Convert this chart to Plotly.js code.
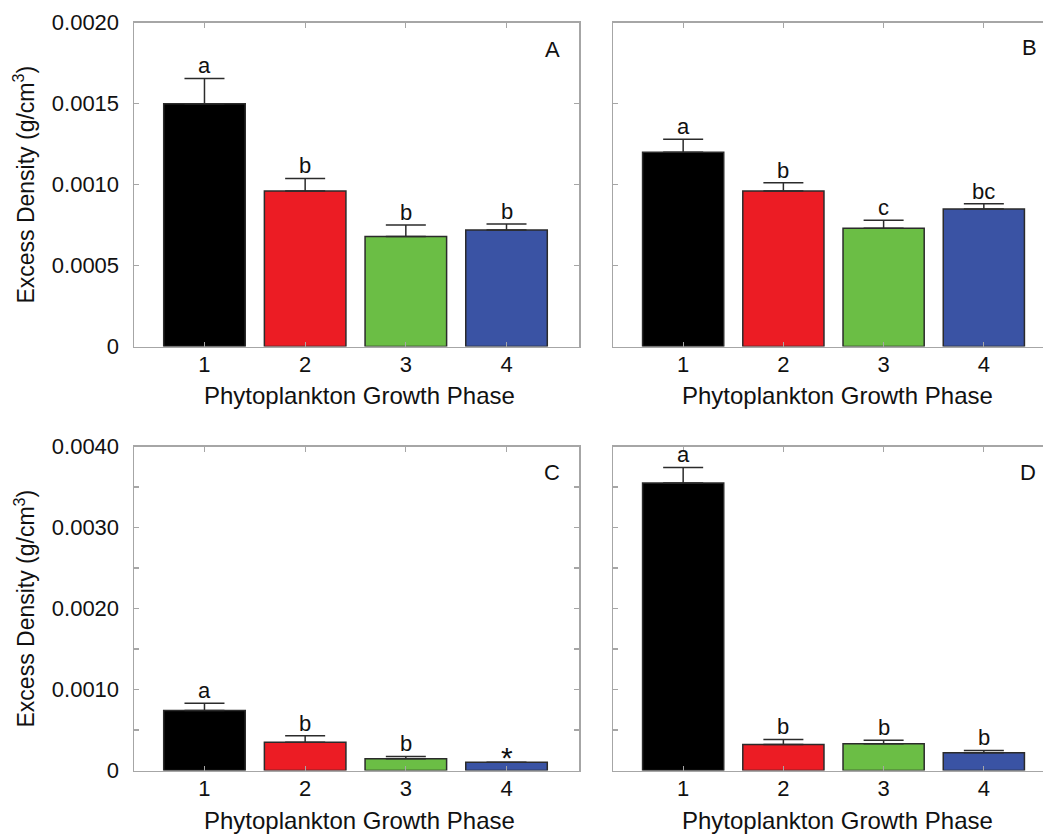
<!DOCTYPE html>
<html>
<head>
<meta charset="utf-8">
<script src="https://cdn.plot.ly/plotly-3.0.1.min.js"></script>
<style>
html,body{margin:0;padding:0;overflow:hidden;background:#fff;}
#chart{width:1070px;height:834px;}
</style>
</head>
<body>
<div id="chart"></div>
<script>
// ---- data ----
const categories = [1, 2, 3, 4];
const barColors = ['#000000', '#EC1C24', '#6BBE45', '#3A53A4'];

const valuesA = [0.00150, 0.00096, 0.00068, 0.00072];
const errorsA = [0.000156, 0.000078, 0.000070, 0.000036];
const lettersA = ['a', 'b', 'b', 'b'];

const valuesB = [0.00120, 0.00096, 0.00073, 0.00085];
const errorsB = [0.000080, 0.000052, 0.000050, 0.000032];
const lettersB = ['a', 'b', 'c', 'bc'];

const valuesC = [0.00074, 0.00035, 0.000144, 0.000103];
const errorsC = [0.000090, 0.000078, 0.000029, 0.0];
const lettersC = ['a', 'b', 'b', '*'];

const valuesD = [0.00355, 0.00032, 0.00033, 0.00022];
const errorsD = [0.000192, 0.000064, 0.000042, 0.000028];
const lettersD = ['a', 'b', 'b', 'b'];

const panelLabels = ['A', 'B', 'C', 'D'];

const tickValsTop = [0, 0.0005, 0.0010, 0.0015, 0.0020];
const tickTextTop = ['0', '0.0005', '0.0010', '0.0015', '0.0020'];
const tickValsBottom = [0, 0.0010, 0.0020, 0.0030, 0.0040];
const tickTextBottom = ['0', '0.0010', '0.0020', '0.0030', '0.0040'];
const minorStepBottom = 0.0005;

const xTitle = 'Phytoplankton Growth Phase';
const yTitle = 'Excess Density (g/cm<sup>3</sup>)';

// ---- layout geometry ----
const W = 1070, H = 834;
const xDomL = [134 / W, 579 / W];
const xDomR = [613 / W, 1056 / W];
const yDomT = [1 - 346.5 / H, 1 - 22.7 / H];
const yDomB = [1 - 770.5 / H, 1 - 446.5 / H];

const FONT = 'Liberation Sans, Arial, Helvetica, sans-serif';
const axisGray = '#a6a6a6';

function barTrace(vals, errs, xa, ya) {
  return {
    type: 'bar',
    x: categories,
    y: vals,
    xaxis: xa,
    yaxis: ya,
    width: 0.81,
    marker: { color: barColors, line: { color: '#2b2b2b', width: 1.5 } },
    error_y: {
      type: 'data', symmetric: false, array: errs, arrayminus: [0, 0, 0, 0],
      color: '#2b2b2b', thickness: 1.5, width: 20
    },
    hoverinfo: 'x+y',
    showlegend: false
  };
}

const data = [
  barTrace(valuesA, errorsA, 'x', 'y'),
  barTrace(valuesB, errorsB, 'x2', 'y2'),
  barTrace(valuesC, errorsC, 'x3', 'y3'),
  barTrace(valuesD, errorsD, 'x4', 'y4')
];

function xAxis(domain, anchor) {
  return {
    domain: domain, anchor: anchor, range: [0.3, 4.72],
    tickvals: categories, ticktext: categories.map(String),
    ticks: 'inside', ticklen: 5, tickcolor: axisGray, tickwidth: 1.2,
    showline: true, linecolor: axisGray, linewidth: 1.5, mirror: 'allticks',
    showgrid: false, zeroline: false, fixedrange: true,
    ticklabelstandoff: -2,
    tickfont: { family: FONT, size: 22, color: '#111' }
  };
}
function yAxis(domain, anchor, range, vals, text, showLabels, minorStep) {
  const ax = {
    domain: domain, anchor: anchor, range: range,
    tickvals: vals, ticktext: text, showticklabels: showLabels,
    ticks: 'inside', ticklen: 5, tickcolor: axisGray, tickwidth: 1.2,
    showline: true, linecolor: axisGray, linewidth: 1.5, mirror: 'allticks',
    showgrid: false, zeroline: false, fixedrange: true,
    ticklabelstandoff: 9,
    tickfont: { family: FONT, size: 22, color: '#111' }
  };
  if (minorStep) {
    ax.minor = { tickmode: 'linear', tick0: 0, dtick: minorStep, ticks: 'inside',
                 ticklen: 5, tickcolor: axisGray, tickwidth: 1.2, showgrid: false };
  }
  return ax;
}

const annotations = [];
function addLetters(vals, errs, letters, xa, ya) {
  for (let i = 0; i < categories.length; i++) {
    const star = letters[i] === '*';
    annotations.push({
      x: categories[i], y: vals[i] + errs[i], xref: xa, yref: ya,
      text: letters[i], showarrow: false, xanchor: 'center', yanchor: 'bottom',
      yshift: star ? -14 : -2,
      font: { family: FONT, size: star ? 30 : 22, color: '#111' }
    });
  }
}
addLetters(valuesA, errorsA, lettersA, 'x', 'y');
addLetters(valuesB, errorsB, lettersB, 'x2', 'y2');
addLetters(valuesC, errorsC, lettersC, 'x3', 'y3');
addLetters(valuesD, errorsD, lettersD, 'x4', 'y4');

// panel letters
const panelPos = [[552, 50], [1029, 48], [552, 472], [1028, 472]];
panelLabels.forEach((t, i) => {
  annotations.push({
    x: panelPos[i][0] / W, y: 1 - panelPos[i][1] / H, xref: 'paper', yref: 'paper',
    text: t, showarrow: false, xanchor: 'center', yanchor: 'middle',
    font: { family: FONT, size: 22, color: '#111' }
  });
});

// axis titles
const xTitlePos = [[359, 396], [837, 396], [359, 820], [837, 820]];
xTitlePos.forEach(p => {
  annotations.push({
    x: p[0] / W, y: 1 - p[1] / H, xref: 'paper', yref: 'paper',
    text: xTitle, showarrow: false, xanchor: 'center', yanchor: 'middle',
    font: { family: FONT, size: 24, color: '#111' }
  });
});
[[24, 184.6], [24, 608.5]].forEach(p => {
  annotations.push({
    x: p[0] / W, y: 1 - p[1] / H, xref: 'paper', yref: 'paper',
    text: yTitle, showarrow: false, xanchor: 'center', yanchor: 'middle',
    textangle: -90,
    font: { family: FONT, size: 23, color: '#111' }
  });
});

const layout = {
  width: W, height: H,
  margin: { l: 0, r: 0, t: 0, b: 0, pad: 0 },
  paper_bgcolor: '#ffffff', plot_bgcolor: '#ffffff',
  font: { family: FONT, color: '#111' },
  xaxis: xAxis(xDomL, 'y'),
  yaxis: yAxis(yDomT, 'x', [0, 0.002], tickValsTop, tickTextTop, true, null),
  xaxis2: xAxis(xDomR, 'y2'),
  yaxis2: yAxis(yDomT, 'x2', [0, 0.002], tickValsTop, tickTextTop, false, null),
  xaxis3: xAxis(xDomL, 'y3'),
  yaxis3: yAxis(yDomB, 'x3', [0, 0.004], tickValsBottom, tickTextBottom, true, minorStepBottom),
  xaxis4: xAxis(xDomR, 'y4'),
  yaxis4: yAxis(yDomB, 'x4', [0, 0.004], tickValsBottom, tickTextBottom, false, minorStepBottom),
  annotations: annotations,
  showlegend: false
};

Plotly.newPlot('chart', data, layout, { displayModeBar: false, staticPlot: true });
</script>
</body>
</html>
